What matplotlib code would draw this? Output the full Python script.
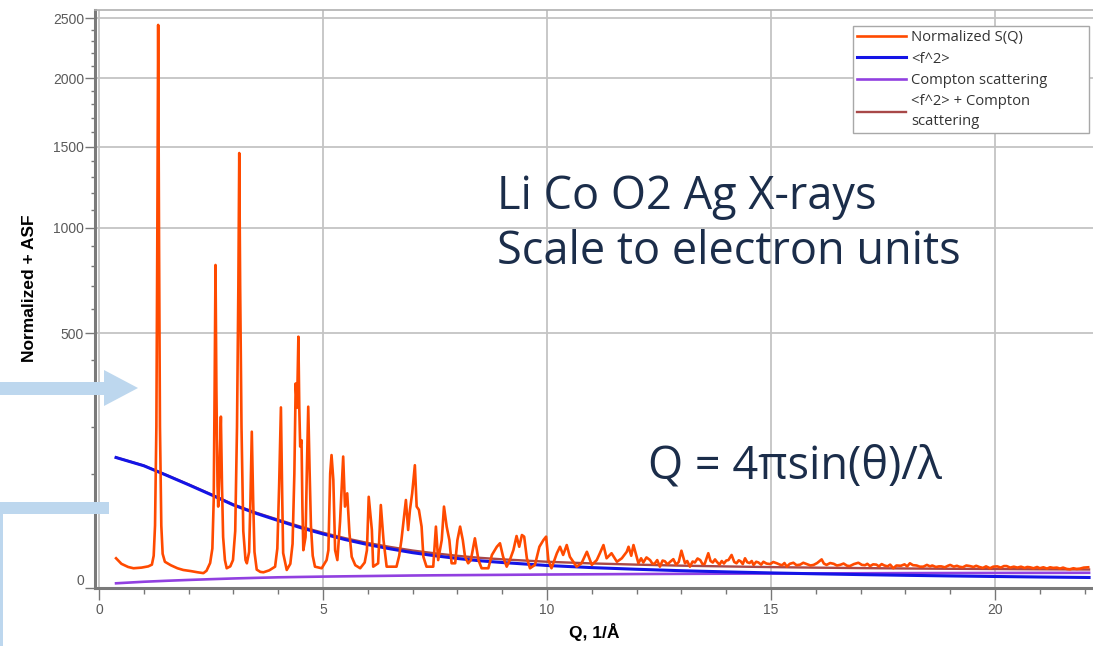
import numpy as np
import matplotlib
matplotlib.use("Agg")
import matplotlib.pyplot as plt
from matplotlib.ticker import MultipleLocator
from matplotlib.patches import Polygon, Rectangle

# ---- data ----
# Normalized S(Q) (orange), Q in 1/A
q_sq = [0.38, 0.50, 0.65, 0.77, 0.95, 1.10, 1.18,
        1.22, 1.25, 1.28, 1.30, 1.32, 1.34, 1.36, 1.39, 1.42, 1.47,
        1.60, 1.75, 1.88, 2.05, 2.20, 2.33, 2.40, 2.48,
        2.53, 2.56, 2.58, 2.60, 2.62, 2.645, 2.66, 2.69, 2.72, 2.745, 2.77, 2.81,
        2.85, 2.93, 2.99, 3.04, 3.08, 3.11, 3.13, 3.15, 3.18, 3.22, 3.27, 3.30,
        3.35, 3.38, 3.41, 3.44, 3.47, 3.52, 3.60, 3.67, 3.80, 3.93,
        3.98, 4.02, 4.06, 4.09, 4.11, 4.19, 4.27, 4.32, 4.36, 4.39, 4.42, 4.45,
        4.47, 4.49, 4.52, 4.54, 4.56, 4.61, 4.64, 4.67, 4.70, 4.73, 4.77, 4.82,
        4.97, 5.08, 5.12, 5.16, 5.19, 5.23, 5.27, 5.32, 5.38, 5.45, 5.49, 5.54,
        5.59, 5.64, 5.72, 5.83, 5.93, 5.98, 6.02, 6.06, 6.09, 6.12, 6.23, 6.29,
        6.35, 6.42, 6.64, 6.70, 6.75, 6.85, 6.90, 6.94, 6.99, 7.05, 7.09, 7.14,
        7.20, 7.24, 7.31, 7.46, 7.52, 7.57, 7.65, 7.70, 7.76, 7.82, 7.87, 7.95,
        8.00, 8.06, 8.12, 8.17, 8.24, 8.30, 8.39, 8.47, 8.54, 8.69, 8.77, 8.88,
        8.95, 9.02, 9.10, 9.17, 9.25, 9.32, 9.38, 9.44, 9.49, 9.55, 9.62, 9.73,
        9.83, 9.92, 9.98, 10.03, 10.10, 10.22, 10.29, 10.36, 10.44, 10.51, 10.66,
        10.77, 10.89, 11.00, 11.11, 11.18, 11.26, 11.33, 11.44, 11.56, 11.67,
        11.78, 11.82, 11.88, 11.93, 12.04, 12.10, 12.15, 12.22, 12.30, 12.35,
        12.40, 12.46, 12.52, 12.58, 12.63, 12.69, 12.75, 12.82, 12.88, 12.94,
        13.00, 13.08, 13.13, 13.19, 13.25, 13.30, 13.36, 13.42, 13.47, 13.52,
        13.60, 13.65, 13.70, 13.75, 13.79, 13.85, 13.90, 13.95, 14.00, 14.05,
        14.12, 14.18, 14.23, 14.28, 14.32, 14.37, 14.42, 14.47, 14.52, 14.57,
        14.61, 14.67, 14.72, 14.78, 14.83, 14.90, 14.98, 15.05, 15.13, 15.20,
        15.25, 15.30, 15.35, 15.42, 15.50, 15.57, 15.65, 15.72, 15.80, 15.88,
        15.95, 16.03, 16.13, 16.18, 16.24, 16.32, 16.40, 16.47, 16.54, 16.62,
        16.70, 16.76, 16.85, 16.95, 17.03, 17.10, 17.15, 17.21, 17.28, 17.35,
        17.41, 17.47, 17.53, 17.60, 17.66, 17.73, 17.80, 17.90, 17.98, 18.04,
        18.10, 18.17, 18.25, 18.32, 18.40, 18.48, 18.55, 18.60, 18.68, 18.75,
        18.80, 18.88, 18.95, 19.00, 19.08, 19.15, 19.20, 19.28, 19.36, 19.44,
        19.52, 19.58, 19.65, 19.73, 19.80, 19.89, 19.96, 20.05, 20.13, 20.20,
        20.26, 20.34, 20.42, 20.50, 20.58, 20.66, 20.72, 20.78, 20.86, 20.94,
        21.00, 21.08, 21.16, 21.23, 21.30, 21.38, 21.45, 21.52, 21.60, 21.67,
        21.75, 21.82, 21.90, 21.98, 22.08]
s_sq = [6.8, 4.5, 3.4, 3.0, 3.2, 3.6, 4.2,
        8, 30, 200, 900, 2440, 900, 200, 30, 9, 5.3,
        4.0, 3.0, 2.5, 2.2, 1.9, 1.7, 2.3, 4.8,
        12, 60, 300, 803, 300, 80, 51, 110, 226, 80, 20, 6,
        3.0, 3.6, 6, 25, 200, 700, 1456, 700, 200, 25, 6, 4.7,
        10, 60, 188, 60, 10, 2.6, 2.0, 1.9, 2.4, 3.5,
        12, 80, 251, 60, 9.4, 2.5, 4.5, 15, 100, 322, 250, 486,
        250, 154, 168, 50, 11, 20, 110, 253, 107, 30, 8, 3.5,
        3.0, 6, 11, 101, 136, 90, 11, 6, 34, 133, 51, 69,
        23, 7.5, 4, 3, 5, 11, 64, 40, 26, 3.5, 4.7, 53,
        17.7, 3.5, 3.5, 8, 17.7, 59.6, 25.9, 46.8, 69, 116, 51, 47,
        29, 7.5, 3.5, 3.5, 29, 6, 17.7, 51, 29, 17.7, 4.7, 4.7,
        17.7, 29, 17.7, 7.5, 4.7, 6, 19, 6, 3, 3, 8.4, 13.1,
        15.4, 7.5, 3.5, 6, 11.1, 20.8, 13.1, 21.6, 20.3, 6.8, 3, 4.1,
        13.1, 17.7, 20.3, 6, 3, 9.3, 13.1, 8.4, 14.2, 7.5, 3.5,
        4.7, 10.1, 4.1, 6, 9.3, 14.2, 6.8, 9.3, 5.3, 6.8,
        10.1, 13.1, 8, 14.2, 4.7, 6.8, 5.0, 7.2, 6.0, 4.6,
        4.5, 6.0, 3.5, 5.8, 5.5, 4.3, 5.3, 6.4, 4.2, 5.2,
        10.7, 4.7, 5.6, 3.5, 5.4, 5.0, 6.7, 6.0, 4.4, 4.5,
        9.3, 5.6, 5.0, 6.3, 5.3, 4.2, 5.6, 4.6, 5.8, 6.0,
        8.4, 5.2, 4.7, 5.9, 5.5, 4.4, 6.8, 5.1, 4.8, 5.6,
        4.1, 5.3, 5.0, 4.2, 5.3, 4.6, 4.4, 5.2, 4.7, 4.2,
        4.0, 4.8, 3.5, 4.5, 4.9, 4.0, 4.2, 4.9, 4.4, 3.9,
        4.1, 4.8, 6.3, 4.6, 4.1, 4.8, 4.5, 3.9, 4.1, 4.6,
        3.8, 3.7, 4.4, 4.9, 4.1, 4.0, 4.5, 3.7, 4.3, 4.2,
        3.6, 4.4, 3.9, 3.6, 4.2, 3.0, 3.9, 3.8, 4.3, 3.6,
        4.7, 4.0, 3.9, 3.5, 3.5, 4.1, 3.6, 3.9, 3.4, 3.6,
        3.6, 3.3, 3.8, 4.1, 3.5, 3.8, 3.5, 3.3, 3.9, 3.7,
        3.4, 3.8, 3.4, 3.1, 3.6, 3.0, 3.5, 3.6, 3.2, 3.7,
        3.7, 3.2, 3.5, 3.2, 3.5, 3.1, 3.4, 3.3, 3.0, 3.4,
        3.0, 3.3, 2.9, 3.3, 3.1, 3.2, 2.9, 3.2, 2.8, 2.7,
        3.0, 2.8, 2.9, 3.2, 3.3]

# smooth curves
q_smooth = [0.38, 1.0, 1.5, 2.0, 2.5, 3.0, 3.5, 4.0, 4.5, 5.0, 5.5, 6.0, 6.5,
            7.0, 7.5, 8.0, 8.5, 9.0, 10.0, 11.0, 12.0, 13.0, 14.0, 15.0, 16.0,
            17.0, 18.0, 19.0, 20.0, 21.0, 22.1]
f2 = [131, 115, 98, 82, 67, 53, 43, 35, 28, 22.5, 18, 14.5, 11.8,
      9.6, 8.0, 6.7, 5.7, 5.0, 3.9, 3.2, 2.7, 2.3, 2.0, 1.75, 1.55,
      1.38, 1.24, 1.12, 1.02, 0.93, 0.85]
compton = [0.17, 0.30, 0.40, 0.50, 0.60, 0.70, 0.79, 0.88, 0.94, 1.00, 1.05, 1.10, 1.15,
           1.20, 1.24, 1.27, 1.30, 1.33, 1.40, 1.45, 1.50, 1.54, 1.58, 1.61, 1.64,
           1.67, 1.70, 1.72, 1.74, 1.76, 1.78]
f2_plus_compton = list(np.array(f2) + np.array(compton))

x_ticks = [0, 5, 10, 15, 20]
y_ticks = [0, 500, 1000, 1500, 2000, 2500]

# ---- figure ----
W, H = 1093, 646
fig = plt.figure(figsize=(W / 100, H / 100), dpi=100)
ax = fig.add_axes([95 / W, 1 - 588 / H, 1 - 95 / W, (588 - 10) / H])

fwd = lambda y: np.sqrt(np.clip(y, 0, None))
inv = lambda y: np.square(y)
ax.set_yscale('function', functions=(fwd, inv))

ax.plot(q_sq, s_sq, color='#ff4a00', lw=1.9, zorder=5, label='Normalized S(Q)')
ax.plot(q_smooth, f2_plus_compton, color='#a84848', lw=1.7, zorder=3,
        label='<f^2> + Compton\nscattering')
ax.plot(q_smooth, f2, color='#1414e6', lw=2.2, zorder=4, label='<f^2>')
ax.plot(q_smooth, compton, color='#9140e0', lw=1.9, zorder=3, label='Compton scattering')

ax.set_xlim(-0.09, (W - 99) / 44.8)
ax.set_ylim(0, 2571)
ax.set_xticks(x_ticks)
ax.set_yticks(y_ticks)
ax.xaxis.set_minor_locator(MultipleLocator(1))
ax.yaxis.set_minor_locator(MultipleLocator(100))

ax.grid(True, which='major', color='#c4c4c4', lw=1.3)
ax.set_axisbelow(True)
ax.tick_params(axis='y', which='major', length=7, width=1, color='#777777', pad=1,
               labelsize=10, labelcolor='#5a5a5a')
ax.tick_params(axis='y', which='minor', length=3, width=1, color='#777777')
ax.tick_params(axis='x', which='major', length=8.5, width=1, color='#777777', pad=2,
               labelsize=10, labelcolor='#5a5a5a')
ax.tick_params(axis='x', which='minor', length=4, width=1, color='#777777')
for lab in ax.get_xticklabels() + ax.get_yticklabels():
    lab.set_family('Liberation Sans')
ax.get_yticklabels()[0].set_verticalalignment('bottom')

for side in ('left', 'bottom'):
    ax.spines[side].set_color('#7a7a7a')
    ax.spines[side].set_linewidth(2.2)
ax.spines['top'].set_color('#b0b0b0')
ax.spines['top'].set_linewidth(1.2)
ax.spines['right'].set_visible(False)

# legend in the same order as the reference, box stretched to the reference width
h, l = ax.get_legend_handles_labels()
order = [0, 2, 3, 1]
leg = ax.legend([h[i] for i in order], [l[i] for i in order],
                loc='upper left', mode='expand',
                bbox_to_anchor=(853 / W, 1 - 130 / H, 236 / W, 104 / H),
                bbox_transform=fig.transFigure, borderaxespad=0,
                prop={'family': 'Open Sans', 'size': 10.6}, handlelength=3.3,
                handletextpad=0.35, borderpad=0.3, labelspacing=0.42,
                fancybox=False, framealpha=1, edgecolor='#a8a8a8')
leg.get_frame().set_linewidth(1.0)
for t in leg.get_texts():
    t.set_color('#333333')
    t.set_linespacing(1.45)

fig.text(30 / W, 1 - 288 / H, 'Normalized + ASF', rotation=90, ha='center', va='center',
         family='Liberation Sans', fontsize=12.5, fontweight='bold')
fig.text(594 / W, 1 - 632 / H, 'Q, 1/Å', ha='center', va='center',
         family='Liberation Sans', fontsize=12.5, fontweight='bold')

# ---- overlay: annotations and light blue shapes, pixel coordinates ----
ov = fig.add_axes([0, 0, 1, 1], facecolor='none')
ov.set_xlim(0, W)
ov.set_ylim(H, 0)
ov.axis('off')
note = dict(family='Open Sans', fontsize=32.5, color='#1b2d4a', ha='left', va='baseline')
ov.text(497, 209, 'Li Co O2 Ag X-rays', **note)
ov.text(497, 264, 'Scale to electron units', **note)
ov.text(648, 479, 'Q = 4πsin(θ)/λ', **note)

arrow_c = '#bdd7ee'
ov.add_patch(Polygon([(0, 382), (104, 382), (104, 370), (138, 388), (104, 406),
                      (104, 395), (0, 395)], closed=True, fc=arrow_c, ec='none'))
ov.add_patch(Rectangle((0, 502), 109, 12, fc=arrow_c, ec='none'))
ov.add_patch(Rectangle((0, 502), 3, H - 502, fc=arrow_c, ec='none'))

fig.savefig('out.png', dpi=100)
